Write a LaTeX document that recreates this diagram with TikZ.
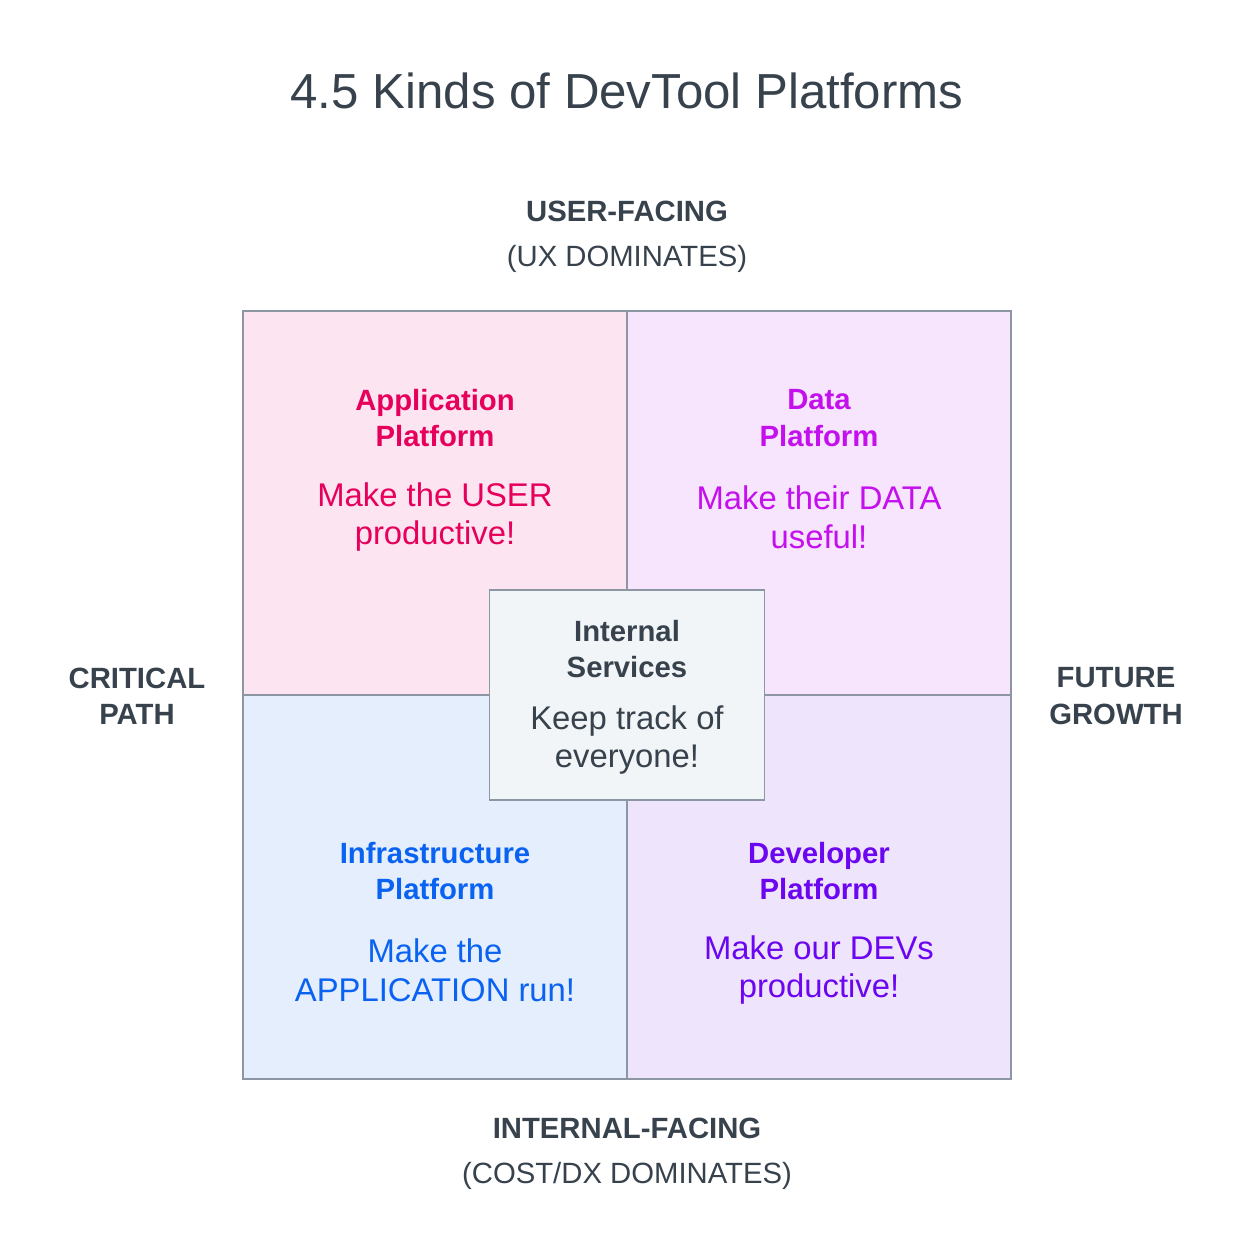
\documentclass[tikz,border=0pt]{standalone}
\usepackage{fontspec}
\setmainfont{Liberation Sans}
\usetikzlibrary{positioning}
\definecolor{ink}{HTML}{37424D}
\definecolor{edge}{HTML}{8C97A3}
\definecolor{appfg}{HTML}{E6005C}
\definecolor{appbg}{HTML}{FCE4F1}
\definecolor{datafg}{HTML}{C310EC}
\definecolor{databg}{HTML}{F6E5FC}
\definecolor{infrafg}{HTML}{0A62F2}
\definecolor{infrabg}{HTML}{E4EEFC}
\definecolor{devfg}{HTML}{6C06F0}
\definecolor{devbg}{HTML}{EEE4FC}
\definecolor{innerbg}{HTML}{F2F5F8}
\tikzset{
  quad/.style={% quadrant square
    draw=edge, line width=1.6pt, minimum size=384*0.03cm, inner sep=0pt},
  head/.style={% bold heading
    font=\fontsize{25}{31}\selectfont\bfseries, align=center},
  motto/.style={% plain motto
    font=\fontsize{28}{33}\selectfont, align=center},
  axis/.style={% axis labels
    text=ink, align=center, font=\fontsize{25}{38}\selectfont}
}
\begin{document}
\begin{tikzpicture}[x=0.03cm, y=-0.03cm]
\useasboundingbox (0,0) rectangle (1254,1254);

%%% Quadrants
\node[quad, fill=appbg] (app) at (435,503) {};
\node[quad, fill=databg] (data) at (819,503) {};
\node[quad, fill=infrabg] (infra) at (435,887) {};
\node[quad, fill=devbg] (dev) at (819,887) {};

%%% Quadrant texts
\node[head, text=appfg] (apphead) at (435,418) {Application\\Platform};
\node[motto, text=appfg] (appmotto) at (435,517) {Make the USER\\productive!};
\node[head, text=datafg] (datahead) at (819,418) {Data\\Platform};
\node[motto, text=datafg] (datamotto) at (819,517) {Make their DATA\\useful!};
\node[head, text=infrafg] (infrahead) at (435,871) {Infrastructure\\Platform};
\node[motto, text=infrafg] (inframotto) at (435,970) {Make the\\APPLICATION run!};
\node[head, text=devfg] (devhead) at (819,871) {Developer\\Platform};
\node[motto, text=devfg] (devmotto) at (819,970) {Make our DEVs\\productive!};

%%% Centre box
\node[draw=edge, line width=1.6pt, fill=innerbg, minimum width=275*0.03cm,
  minimum height=210*0.03cm, inner sep=0pt] (inner) at (627,695) {};
\node[head, text=ink] (innerhead) at (627,649) {Internal\\Services};
\node[motto, text=ink] (innermotto) at (627,740) {Keep track of\\everyone!};

%%% Axis labels
\node[font=\fontsize{42}{48}\selectfont, text=ink] (title) at (627,91) {4.5 Kinds of DevTool Platforms};
\node[axis] (top) at (627,237) {\textbf{USER-FACING}\\(UX DOMINATES)};
\node[axis] (bottom) at (627,1154) {\textbf{INTERNAL-FACING}\\(COST/DX DOMINATES)};
\node[axis, font=\fontsize{25}{31}\selectfont\bfseries] (left) at (137,696) {CRITICAL\\PATH};
\node[axis, font=\fontsize{25}{31}\selectfont\bfseries] (right) at (1116,696) {FUTURE\\GROWTH};
\end{tikzpicture}
\end{document}
